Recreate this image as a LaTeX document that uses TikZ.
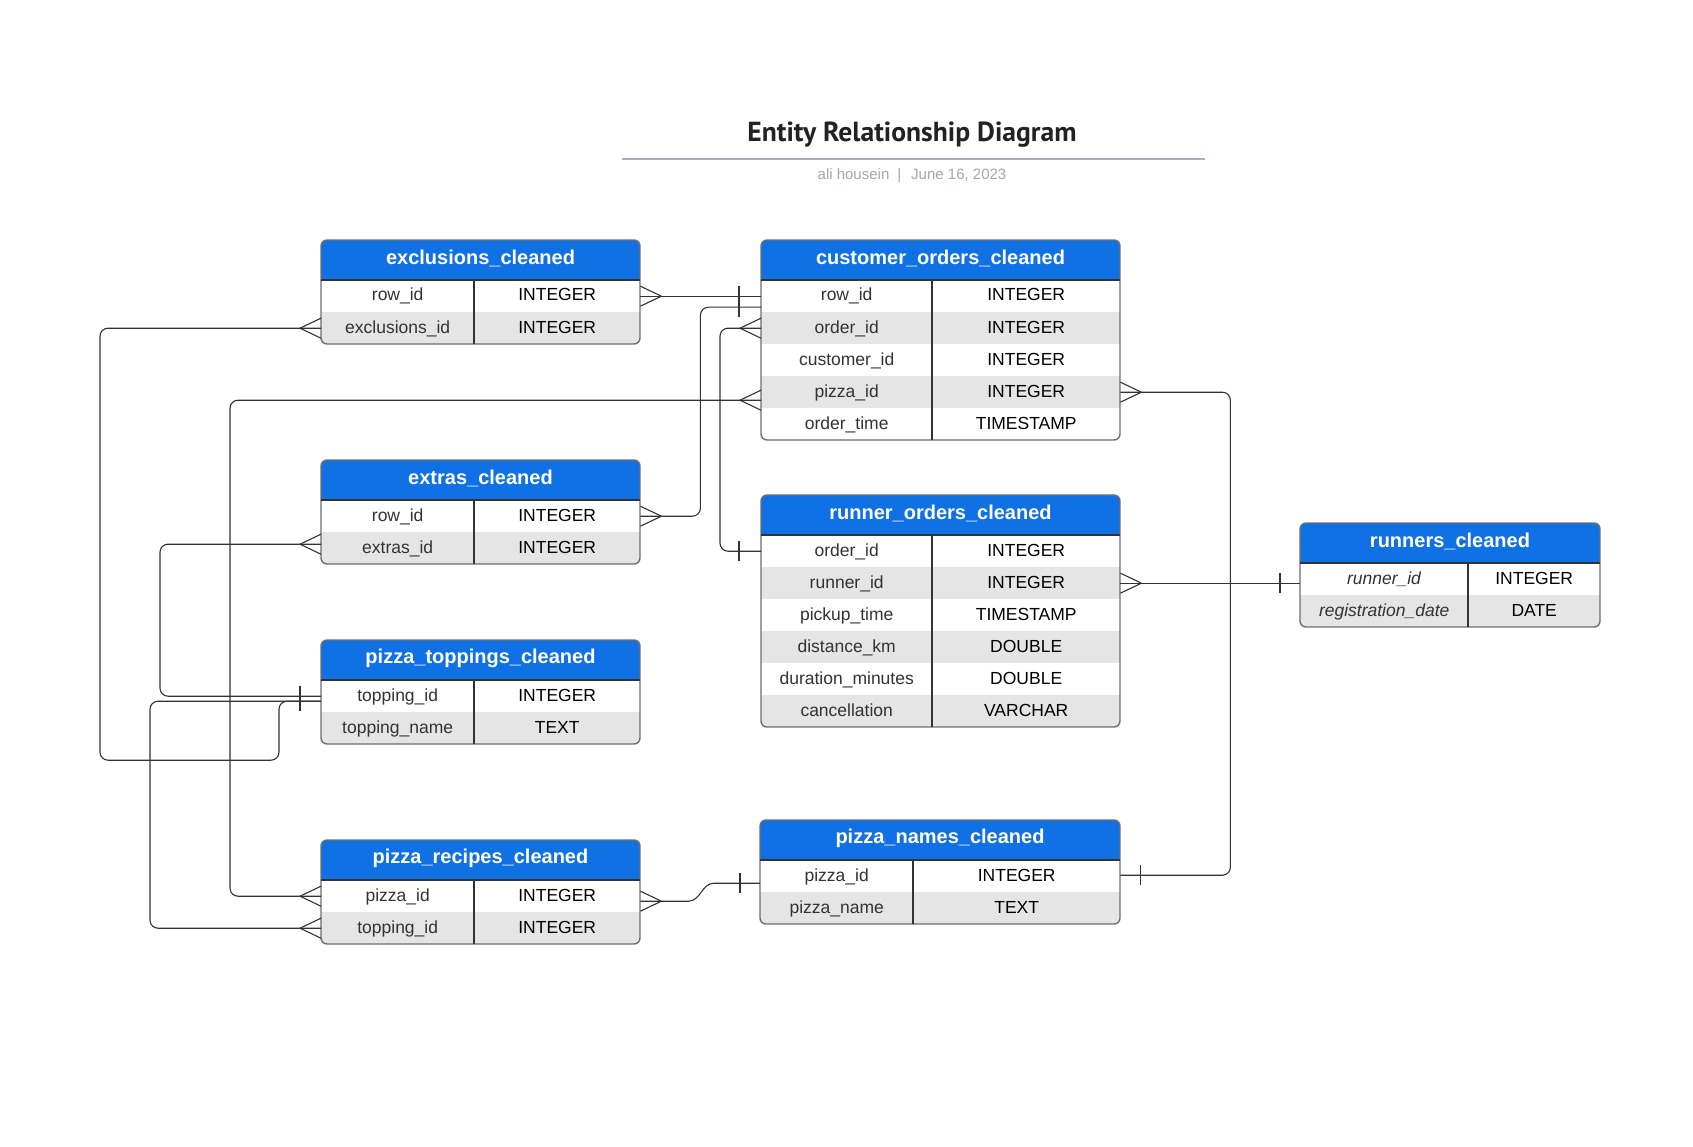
\documentclass[tikz,border=0pt]{standalone}
\usepackage{fontspec}
\setmainfont{Liberation Sans}
\newfontfamily\titlefont{PT Sans}
\definecolor{blueHeader}{HTML}{1071E5}
\definecolor{grayRow}{HTML}{E5E5E5}
\definecolor{grayBorder}{HTML}{6E6E6E}
\definecolor{grayRule}{HTML}{A9AEB8}
\definecolor{graySub}{HTML}{A2A7B1}
\definecolor{darkTitle}{HTML}{222222}
\definecolor{darkField}{HTML}{333333}
\definecolor{darkLine}{HTML}{333333}
\usetikzlibrary{
  positioning,
  calc
}

% Table: name, left, top, divider, right, rows, title, fields.
\newcommand{\ertable}[8]{
  \pgfmathsetmacro{\erbottom}{#3 + 40 + 32*#6}
  % Header and striped rows.
  \begin{scope}
    \clip[rounded corners = 6pt] (#2,#3) rectangle (#5,\erbottom);
    \fill[blueHeader] (#2,#3) rectangle (#5,#3+40);
    \foreach \fname/\ftype [count=\i] in {#8} {
      \ifodd\i\else
        \fill[grayRow] (#2,#3+8+32*\i) rectangle (#5,#3+40+32*\i);
      \fi
    }
  \end{scope}
  % Texts.
  \node[headText] (#1) at ({(#2+#5)/2},#3+18) {#7};
  \foreach \fname/\ftype [count=\i] in {#8} {
    \node[fieldCell, minimum width = #4-#2] (#1-\i) at (#2,#3+8+32*\i) {\fname};
    \node[typeCell, minimum width = #5-#4] (#1-\i-t) at (#4,#3+8+32*\i) {\ftype};
  }
  % Frame.
  \draw[tableBorder, rounded corners = 6pt] (#2,#3) rectangle (#5,\erbottom);
  \draw[cellLine] (#2,#3+40) -- (#5,#3+40);
  \draw[cellLine] (#4,#3+40) -- (#4,\erbottom);
}

% Crow's foot: point, length (sign gives the side).
\newcommand{\crowfoot}[2]{
  \draw[relLine] (#1) ++(0,-10) -- ++(#2,10) -- ++({-(#2)},10);
}
% Single bar: point, offset.
\newcommand{\barmark}[2]{
  \draw[relLine] (#1) ++(#2,-10) -- ++(0,20);
}

\begin{document}
\begin{tikzpicture}[
    % Units.
    x = 1pt, y = -1pt,
    % Title.
    titleText/.style = {
      font = \titlefont\bfseries\fontsize{27.6}{32}\selectfont,
      text = darkTitle,
      anchor = base
    },
    subText/.style = {
      font = \fontsize{15}{18}\selectfont,
      text = graySub,
      anchor = base
    },
    ruleLine/.style = {
      draw = grayRule,
      line width = 1.6pt
    },
    % Tables.
    headText/.style = {
      font = \bfseries\fontsize{20}{24}\selectfont,
      text = white
    },
    fieldCell/.style = {
      anchor = north west,
      minimum height = 32pt,
      inner sep = 0pt,
      text height = 12.6pt,
      text depth = 3pt,
      text = darkField,
      font = \fontsize{17.5}{21}\selectfont
    },
    typeCell/.style = {
      fieldCell,
      text = black
    },
    tableBorder/.style = {
      draw = grayBorder,
      line width = 1.4pt
    },
    cellLine/.style = {
      draw = darkLine,
      line width = 1.1pt
    },
    % Relations.
    relLine/.style = {
      draw = darkLine,
      line width = 1.1pt
    },
    relPath/.style = {
      relLine,
      rounded corners = 8pt
    }
  ]

  % Canvas.
  \fill[white] (0,0) rectangle (1693,1147);
  \useasboundingbox (0,0) rectangle (1693,1147);

  % Title.
  \node[titleText] (title) at (912,142) {Entity Relationship Diagram};
  \draw[ruleLine] (622,159) -- (1205,159);
  \node[subText] (byline) at (912,180) {ali housein\hspace{8pt}|\hspace{10pt}June 16, 2023};

  % Tables.
  \ertable{excl}{321}{240}{474}{640}{2}{exclusions\_cleaned}
    {row\_id/INTEGER, exclusions\_id/INTEGER}
  \ertable{co}{761}{240}{932}{1120}{5}{customer\_orders\_cleaned}
    {row\_id/INTEGER, order\_id/INTEGER, customer\_id/INTEGER,
     pizza\_id/INTEGER, order\_time/TIMESTAMP}
  \ertable{ext}{321}{460}{474}{640}{2}{extras\_cleaned}
    {row\_id/INTEGER, extras\_id/INTEGER}
  \ertable{ro}{761}{495}{932}{1120}{6}{runner\_orders\_cleaned}
    {order\_id/INTEGER, runner\_id/INTEGER, pickup\_time/TIMESTAMP,
     distance\_km/DOUBLE, duration\_minutes/DOUBLE, cancellation/VARCHAR}
  \ertable{run}{1300}{523}{1468}{1600}{2}{runners\_cleaned}
    {\textit{runner\_id}/INTEGER, \textit{registration\_date}/DATE}
  \ertable{top}{321}{640}{474}{640}{2}{pizza\_toppings\_cleaned}
    {topping\_id/INTEGER, topping\_name/TEXT}
  \ertable{rec}{321}{840}{474}{640}{2}{pizza\_recipes\_cleaned}
    {pizza\_id/INTEGER, topping\_id/INTEGER}
  \ertable{nam}{760}{820}{913}{1120}{2}{pizza\_names\_cleaned}
    {pizza\_id/INTEGER, pizza\_name/TEXT}

  % Relation ends.
  \coordinate (extEnd) at ([yshift=-11pt]co-1.west);
  \coordinate (coPizzaL) at ([yshift=-8pt]co-4.west);
  \coordinate (namPizzaR) at ([yshift=1pt]nam-1-t.east);
  \coordinate (runEnd) at (ro-2-t.east -| run-1.west);
  \coordinate (recPizzaR) at ([yshift=-5pt]rec-1-t.east);
  \coordinate (namPizzaL) at ([yshift=-7pt]nam-1.west);
  \coordinate (excTop) at ([yshift=-5pt]top-1.west);
  \coordinate (extIdL) at ([yshift=4pt]ext-2.west);

  % Relations.
  \draw[relLine] (excl-1-t.east) -- (co-1.west);
  \crowfoot{excl-1-t.east}{21}
  \barmark{co-1.west}{-22}

  \draw[relPath] (ext-1-t.east) -- ++(60,0) |- (extEnd);
  \crowfoot{ext-1-t.east}{21}
  \barmark{extEnd}{-22}

  \draw[relPath] (co-2.west) -- ++(-41,0) |- (ro-1.west);
  \crowfoot{co-2.west}{-21}
  \barmark{ro-1.west}{-22}

  \draw[relPath] (coPizzaL) -- ++(-531,0) |- (rec-1.west);
  \crowfoot{coPizzaL}{-21}
  \crowfoot{rec-1.west}{-21}

  \draw[relPath] (co-4-t.east) -- ++(110,0) |- (namPizzaR);
  \crowfoot{co-4-t.east}{21}
  \barmark{namPizzaR}{20}

  \draw[relLine] (ro-2-t.east) -- (runEnd);
  \crowfoot{ro-2-t.east}{21}
  \barmark{runEnd}{-20}

  \draw[relLine] (recPizzaR) -- ++(48,0)
    .. controls +(12,0) and +(-12,0) .. ([xshift=-46pt]namPizzaL) -- (namPizzaL);
  \crowfoot{recPizzaR}{21}
  \barmark{namPizzaL}{-20}

  \draw[relPath] (excl-2.west) -- ++(-221,0) -- ++(0,432) -- ++(179,0) |- (excTop);
  \crowfoot{excl-2.west}{-21}
  \barmark{excTop}{-21}

  \draw[relPath] (extIdL) -- ++(-161,0) |- (top-1.west);
  \crowfoot{extIdL}{-21}
  \barmark{top-1.west}{-21}

  \draw[relPath] (rec-2.west) -- ++(-171,0) |- (excTop);
  \crowfoot{rec-2.west}{-21}
\end{tikzpicture}
\end{document}
